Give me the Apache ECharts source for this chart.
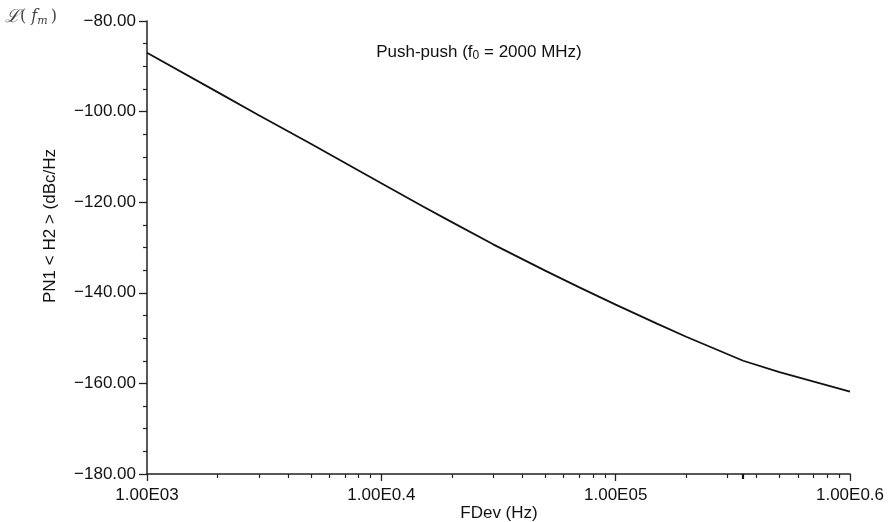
<!DOCTYPE html>
<html>
<head>
<meta charset="utf-8">
<script src="https://cdn.jsdelivr.net/npm/echarts@6/dist/echarts.min.js"></script>
<style>
  html, body { margin: 0; padding: 0; background: #fff; }
  #chart { width: 892px; height: 522px; }
</style>
</head>
<body>
<div id="chart"></div>
<script>
// Offset frequency (Hz) and single-sideband phase noise (dBc/Hz)
const freqHz = [1e3, 2e3, 3e3, 5e3, 1e4, 1.5e4, 2e4, 3e4, 5e4, 7e4, 1e5, 1.5e5, 2e5, 3.5e5, 5e5, 1e6];
const phaseNoise = [-87.0, -95.7, -100.8, -107.1, -115.8, -120.9, -124.4, -129.3, -135.1, -138.8, -142.6, -146.8, -149.7, -155.0, -157.5, -161.8];

// Decade ticks and their printed labels
const xMajorValues = [1e3, 1e4, 1e5, 1e6];
const xMajorLabels = ['1.00E03', '1.00E0.4', '1.00E05', '1.00E0.6'];
// Intermediate log ticks (2..9 per decade) and the marker tick
const xMinorValues = [2e3, 3e3, 4e3, 5e3, 6e3, 7e3, 8e3, 9e3,
                      2e4, 3e4, 4e4, 5e4, 6e4, 7e4, 8e4, 9e4,
                      2e5, 3e5, 4e5, 5e5, 6e5, 7e5, 8e5, 9e5];
const xMarkerValues = [3.5e5];

const yMin = -180, yMax = -80, yStep = 20;

const titleText = 'Push-push (f';
const titleSub = '0';
const titleTail = ' = 2000 MHz)';
const xName = 'FDev (Hz)';
const yName = 'PN1 < H2 > (dBc/Hz';

const FONT = '"Liberation Sans", Arial, Helvetica, sans-serif';
const INK = '#111';

const chart = echarts.init(document.getElementById('chart'), null, { renderer: 'canvas' });

const gridRect = { left: 147, right: 42, top: 21, bottom: 48 };
const log10 = v => Math.log10(v);

const option = {
  backgroundColor: '#fff',
  animation: false,
  grid: Object.assign({ containLabel: false, outerBoundsMode: 'none' }, gridRect),
  title: {
    text: '{t|' + titleText + '}{s|' + titleSub + '}{t|' + titleTail + '}',
    left: 474, top: 37, textAlign: 'center',
    textStyle: {
      fontWeight: 'normal',
      rich: {
        t: { fontFamily: FONT, fontSize: 17, fontWeight: 'normal', color: INK },
        s: { fontFamily: FONT, fontSize: 12, fontWeight: 'normal', color: INK, verticalAlign: 'bottom', padding: [8, 0, 0, 0] }
      }
    }
  },
  graphic: [
    {
      type: 'text', left: 5, top: 8,
      style: {
        text: '{l|ℒ}{p|( }{i|f}{m|m}{p|)}',
        rich: {
          l: { fontFamily: '"DejaVu Serif", serif', fontStyle: 'italic', fontSize: 18, fill: '#444' },
          p: { fontFamily: '"DejaVu Serif", serif', fontSize: 16, fill: '#444' },
          i: { fontFamily: '"DejaVu Serif", serif', fontStyle: 'italic', fontSize: 16, fill: '#444' },
          m: { fontFamily: '"DejaVu Serif", serif', fontStyle: 'italic', fontSize: 11, fill: '#444', padding: [8, 3, 0, 0] }
        }
      }
    },
    {
      // vertical axis title
      type: 'text', x: 50, y: 226, rotation: Math.PI / 2,
      style: {
        text: yName, fontFamily: FONT, fontSize: 17, fill: INK,
        align: 'center', verticalAlign: 'middle'
      }
    },
    {
      // horizontal axis title
      type: 'text', x: 499, y: 513,
      style: {
        text: xName, fontFamily: FONT, fontSize: 17, fill: INK,
        align: 'center', verticalAlign: 'middle'
      }
    }
  ],
  xAxis: [
    {
      type: 'log', logBase: 10, min: 1e3, max: 1e6,
      axisLine: { show: true, lineStyle: { color: '#222', width: 1.5 } },
      axisTick: { show: true, length: 7, lineStyle: { color: '#222', width: 1.3 }, customValues: xMajorValues },
      axisLabel: {
        margin: 13, fontFamily: FONT, fontSize: 17, color: INK,
        customValues: xMajorValues,
        formatter: v => {
          const i = xMajorValues.findIndex(t => Math.abs(Math.log10(t) - Math.log10(v)) < 1e-6);
          return i >= 0 ? xMajorLabels[i] : '';
        }
      },
      splitLine: { show: false }
    },
    {
      // log10-space axis carrying the intermediate decade ticks
      type: 'value', min: 3, max: 6, position: 'bottom',
      axisLine: { show: false },
      axisTick: { show: true, length: 4, lineStyle: { color: '#222', width: 1.2 }, customValues: xMinorValues.map(log10) },
      axisLabel: { show: false },
      splitLine: { show: false }
    },
    {
      type: 'value', min: 3, max: 6, position: 'bottom',
      axisLine: { show: false },
      axisTick: { show: true, length: 5, lineStyle: { color: '#111', width: 2.2 }, customValues: xMarkerValues.map(log10) },
      axisLabel: { show: false },
      splitLine: { show: false }
    }
  ],
  yAxis: {
    type: 'value', min: yMin, max: yMax, interval: yStep,
    axisLine: { show: true, lineStyle: { color: '#222', width: 1.5 } },
    axisTick: { show: true, length: 8, lineStyle: { color: '#222', width: 1.3 } },
    minorTick: { show: true, splitNumber: 4, length: 4, lineStyle: { color: '#222', width: 1.2 } },
    axisLabel: {
      margin: 11, fontFamily: FONT, fontSize: 17, color: INK,
      formatter: v => (v < 0 ? '\u2212' : '') + Math.abs(v).toFixed(2)
    },
    splitLine: { show: false }
  },
  series: [{
    type: 'line',
    xAxisIndex: 0,
    data: freqHz.map((f, i) => [f, phaseNoise[i]]),
    showSymbol: false,
    smooth: false,
    lineStyle: { color: '#111', width: 1.8 }
  }]
};

chart.setOption(option);
</script>
</body>
</html>
